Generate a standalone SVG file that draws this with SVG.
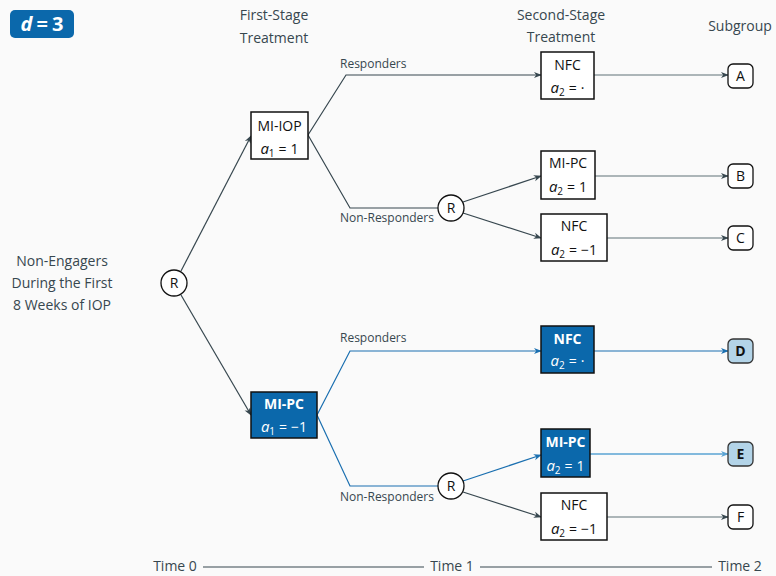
<svg xmlns="http://www.w3.org/2000/svg" width="776" height="576" viewBox="0 0 776 576">
<defs>
<marker id="ad" viewBox="0 0 10 10" refX="9" refY="5" markerWidth="8" markerHeight="8" markerUnits="userSpaceOnUse" orient="auto"><path d="M0,1 L10,5 L0,9 L3,5 Z" fill="#37474f"/></marker>
<marker id="ab" viewBox="0 0 10 10" refX="9" refY="5" markerWidth="8" markerHeight="8" markerUnits="userSpaceOnUse" orient="auto"><path d="M0,1 L10,5 L0,9 L3,5 Z" fill="#1a6fb0"/></marker>
<marker id="al" viewBox="0 0 10 10" refX="9" refY="5" markerWidth="8" markerHeight="8" markerUnits="userSpaceOnUse" orient="auto"><path d="M0,1 L10,5 L0,9 L3,5 Z" fill="#5aa3d3"/></marker>
<style>
text{font-family:"Open Sans","Noto Sans",sans-serif;fill:#37474f;font-size:14px;text-anchor:middle}
.lbl{font-size:12px;text-anchor:start}
.box{fill:#fff;stroke:#111;stroke-width:1.5}
.bbox{fill:#0b68ab;stroke:#111;stroke-width:1.5}
.bt{fill:#111;font-size:14px}
.wt{fill:#fff;font-weight:bold;font-size:14px}
.wm{fill:#fff;font-size:14px}
.m{font-style:italic;font-size:15px}
.s{font-size:10px}
.circ{fill:#fff;stroke:#111;stroke-width:1.3}
.sg{fill:#fff;stroke:#111;stroke-width:1.3}
.sgb{fill:#b3d4e8;stroke:#333;stroke-width:1.3}
.ln{fill:none;stroke:#37474f;stroke-width:1.2}
.lb{fill:none;stroke:#1a6fb0;stroke-width:1.2}
.ll{fill:none;stroke:#5aa3d3;stroke-width:1.4}
.lg{fill:none;stroke:#5f7076;stroke-width:1.2}
</style>
</defs>
<rect width="776" height="576" fill="#fafafa"/>

<g id="badge">
<rect x="10" y="10" width="64" height="28" rx="5" fill="#0b68ab"/>
<text x="42" y="31" style="fill:#fff;font-size:20px;font-weight:bold"><tspan font-style="italic">d</tspan><tspan dx="4">=</tspan><tspan dx="4">3</tspan></text>
</g>

<g id="headers">
<text x="274" y="20">First-Stage</text>
<text x="274" y="43">Treatment</text>
<text x="561" y="20">Second-Stage</text>
<text x="561" y="42">Treatment</text>
<text x="740" y="31">Subgroup</text>
<text x="62" y="266">Non-Engagers</text>
<text x="62" y="288">During the First</text>
<text x="62" y="310">8 Weeks of IOP</text>
</g>

<g id="connectors">
<path class="ln" d="M181,271 L251,136" marker-end="url(#ad)"/>
<path class="ln" d="M181,295 L251,415" marker-end="url(#ad)"/>
<path class="ln" d="M308,135 L346,75 L541,75" marker-end="url(#ad)"/>
<path class="ln" d="M308,135 L350,208 L438,208"/>
<path class="ln" d="M463,202 L541,176" marker-end="url(#ad)"/>
<path class="ln" d="M463,213 L541,238" marker-end="url(#ad)"/>
<path class="lg" d="M594,75 L728,75" marker-end="url(#ad)"/>
<path class="lg" d="M595,176 L728,176" marker-end="url(#ad)"/>
<path class="lg" d="M607,238 L728,238" marker-end="url(#ad)"/>
<path class="lb" d="M317,415 L350,351 L541,351" marker-end="url(#ab)"/>
<path class="lb" d="M317,415 L350,486 L438,486"/>
<path class="lb" d="M463,481 L541,455" marker-end="url(#ab)"/>
<path class="ln" d="M463,492 L541,517" marker-end="url(#ad)"/>
<path class="lb" d="M594,351 L728,351" marker-end="url(#ab)"/>
<path class="ll" d="M590,454 L728,454" marker-end="url(#al)"/>
<path class="lg" d="M607,517 L728,517" marker-end="url(#ad)"/>
<text class="lbl" x="340" y="68">Responders</text>
<text class="lbl" x="340" y="222">Non-Responders</text>
<text class="lbl" x="340" y="342">Responders</text>
<text class="lbl" x="340" y="501">Non-Responders</text>
</g>

<g id="R0"><circle class="circ" cx="174" cy="283" r="13"/><text class="bt" x="174" y="288">R</text></g>
<g id="R1"><circle class="circ" cx="451" cy="208" r="13"/><text class="bt" x="451" y="213">R</text></g>
<g id="R2"><circle class="circ" cx="451" cy="486" r="13"/><text class="bt" x="451" y="491">R</text></g>

<g id="MI-IOP"><rect class="box" x="251" y="112" width="57" height="47"/>
<text class="bt" x="279.5" y="131">MI-IOP</text>
<text class="bt" x="279.5" y="154"><tspan class="m">a</tspan><tspan class="s" dy="3">1</tspan><tspan dy="-3" dx="4">=</tspan><tspan dx="4">1</tspan></text></g>

<g id="MI-PC1"><rect class="bbox" x="251" y="392" width="66" height="46"/>
<text class="wt" x="284" y="409">MI-PC</text>
<text class="wm" x="284" y="432"><tspan class="m">a</tspan><tspan class="s" dy="3">1</tspan><tspan dy="-3" dx="4">=</tspan><tspan dx="4">−1</tspan></text></g>

<g id="NFC-A"><rect class="box" x="541" y="52" width="53" height="47"/>
<text class="bt" x="567.5" y="70">NFC</text>
<text class="bt" x="567.5" y="93"><tspan class="m">a</tspan><tspan class="s" dy="3">2</tspan><tspan dy="-3" dx="4">=</tspan><tspan dx="4">·</tspan></text></g>

<g id="MIPC-B"><rect class="box" x="541" y="151" width="54" height="48"/>
<text class="bt" x="568" y="168">MI-PC</text>
<text class="bt" x="568" y="192"><tspan class="m">a</tspan><tspan class="s" dy="3">2</tspan><tspan dy="-3" dx="4">=</tspan><tspan dx="4">1</tspan></text></g>

<g id="NFC-C"><rect class="box" x="541" y="214" width="66" height="47"/>
<text class="bt" x="574" y="231">NFC</text>
<text class="bt" x="574" y="255"><tspan class="m">a</tspan><tspan class="s" dy="3">2</tspan><tspan dy="-3" dx="4">=</tspan><tspan dx="4">−1</tspan></text></g>

<g id="NFC-D"><rect class="bbox" x="541" y="326" width="53" height="47"/>
<text class="wt" x="567.5" y="344">NFC</text>
<text class="wm" x="567.5" y="366"><tspan class="m">a</tspan><tspan class="s" dy="3">2</tspan><tspan dy="-3" dx="4">=</tspan><tspan dx="4">·</tspan></text></g>

<g id="MIPC-E"><rect class="bbox" x="541" y="429" width="49" height="48"/>
<text class="wt" x="565.5" y="447">MI-PC</text>
<text class="wm" x="565.5" y="471"><tspan class="m">a</tspan><tspan class="s" dy="3">2</tspan><tspan dy="-3" dx="4">=</tspan><tspan dx="4">1</tspan></text></g>

<g id="NFC-F"><rect class="box" x="541" y="493" width="66" height="47"/>
<text class="bt" x="574" y="510">NFC</text>
<text class="bt" x="574" y="534"><tspan class="m">a</tspan><tspan class="s" dy="3">2</tspan><tspan dy="-3" dx="4">=</tspan><tspan dx="4">−1</tspan></text></g>

<g id="A"><rect class="sg" x="728" y="64" width="25" height="24" rx="5"/><text class="bt" x="740.5" y="81">A</text></g>
<g id="B"><rect class="sg" x="728" y="164" width="25" height="24" rx="5"/><text class="bt" x="740.5" y="181">B</text></g>
<g id="C"><rect class="sg" x="728" y="226" width="25" height="24" rx="5"/><text class="bt" x="740.5" y="243">C</text></g>
<g id="D"><rect class="sgb" x="728" y="339" width="25" height="24" rx="5"/><text class="bt" x="740.5" y="356" font-weight="bold">D</text></g>
<g id="E"><rect class="sgb" x="728" y="442" width="25" height="24" rx="5"/><text class="bt" x="740.5" y="459" font-weight="bold">E</text></g>
<g id="F"><rect class="sg" x="728" y="505" width="25" height="24" rx="5"/><text class="bt" x="740.5" y="522">F</text></g>

<g id="timeline">
<text x="175" y="571">Time 0</text>
<line class="ln" x1="203" y1="567" x2="424" y2="567"/>
<text x="452" y="571">Time 1</text>
<line class="ln" x1="480" y1="567" x2="712" y2="567"/>
<text x="740" y="571">Time 2</text>
</g>
</svg>
